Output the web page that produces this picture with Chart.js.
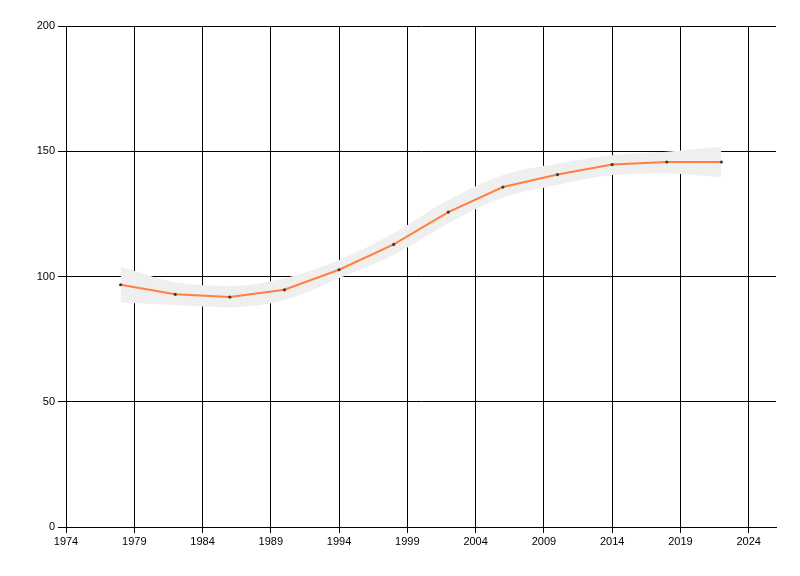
<!DOCTYPE html>
<html>
<head>
<meta charset="utf-8">
<script src="https://cdn.jsdelivr.net/npm/chart.js@4"></script>
<style>
  html, body { margin: 0; padding: 0; background: #fff; }
  #wrap { width: 800px; height: 576px; }
</style>
</head>
<body>
<div id="wrap"><canvas id="grafico" width="800" height="576"></canvas></div>
<script>
// valores
const anios = [1978, 1982, 1986, 1990, 1994, 1998, 2002, 2006, 2010, 2014, 2018, 2022];
const valores = [96.7, 92.9, 91.8, 94.7, 102.7, 112.8, 125.7, 135.7, 140.7, 144.7, 145.7, 145.7];
const bandaSuperior = [103.9, 97.7, 96.2, 99.3, 106.6, 117.3, 130.5, 140.5, 145.1, 148.4, 149.8, 151.8];
const bandaInferior = [89.6, 88.6, 87.7, 90.6, 99.3, 108.6, 121.2, 131.5, 136.5, 140.5, 141.1, 139.6];
const ticksX = [1974, 1979, 1984, 1989, 1994, 1999, 2004, 2009, 2014, 2019, 2024];
const ticksY = [0, 50, 100, 150, 200];

const puntos = (ys) => anios.map((a, i) => ({ x: a, y: ys[i] }));

const ctx = document.getElementById('grafico').getContext('2d');
const grafico = new Chart(ctx, {
    type: 'line',
    data: {
        datasets: [{
            label: 'Valor',
            data: puntos(valores),
            borderColor: 'rgb(255, 128, 64)',
            borderWidth: 2,
            pointRadius: 1.6,
            pointBackgroundColor: '#3c3c3c',
            pointBorderWidth: 0,
            tension: 0,
            fill: false,
            order: 0
        }, {
            label: 'Superior',
            data: puntos(bandaSuperior),
            borderWidth: 0,
            borderColor: 'rgba(0,0,0,0)',
            pointRadius: 0,
            backgroundColor: 'rgb(239, 239, 239)',
            cubicInterpolationMode: 'monotone',
            fill: '+1',
            order: 1
        }, {
            label: 'Inferior',
            data: puntos(bandaInferior),
            borderWidth: 0,
            borderColor: 'rgba(0,0,0,0)',
            pointRadius: 0,
            cubicInterpolationMode: 'monotone',
            fill: false,
            order: 2
        }]
    },
    options: {
        responsive: false,
        animation: false,
        layout: { padding: { top: 26, right: 24, left: 0, bottom: 0 } },
        plugins: {
            legend: { display: false },
            tooltip: { enabled: false }
        },
        scales: {
            x: {
                type: 'linear',
                min: 1974,
                max: 2026,
                afterBuildTicks: (scale) => { scale.ticks = ticksX.map(v => ({ value: v })); },
                afterFit: (scale) => { scale.height = 49; },
                grid: { color: '#000', lineWidth: 1, tickLength: 6, tickColor: '#000' },
                border: { color: '#000', width: 1 },
                ticks: {
                    color: '#000',
                    font: { family: 'Liberation Sans', size: 11 },
                    padding: 2,
                    autoSkip: false,
                    maxRotation: 0,
                    callback: (v) => String(v)
                }
            },
            y: {
                min: 0,
                max: 200,
                afterBuildTicks: (scale) => { scale.ticks = ticksY.map(v => ({ value: v })); },
                afterFit: (scale) => { scale.width = 66; },
                grid: { color: '#000', lineWidth: 1, tickLength: 8, tickColor: '#000' },
                border: { color: '#000', width: 1 },
                ticks: {
                    color: '#000',
                    font: { family: 'Liberation Sans', size: 11 },
                    padding: 3
                }
            }
        }
    }
});
</script>
</body>
</html>
